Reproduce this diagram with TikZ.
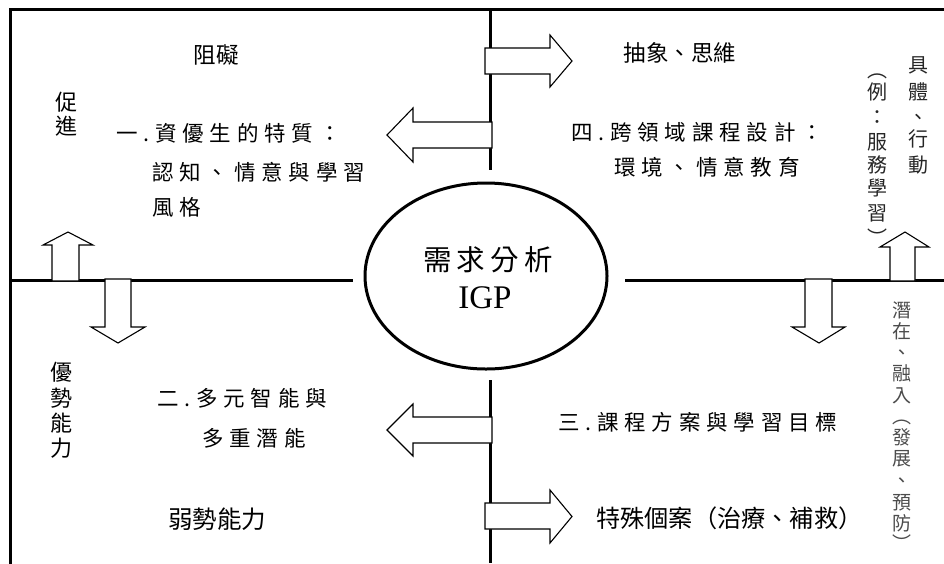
\documentclass[tikz,border=0pt]{standalone}
\usepackage{fontspec}
\setmainfont{Liberation Serif}
\newfontfamily\cjk{Noto Sans CJK TC}
\newfontfamily\cjksp{Noto Sans CJK TC}[LetterSpace=27]
\newfontfamily\cjkcore{Noto Sans CJK TC}[LetterSpace=18]
\usetikzlibrary{shapes.geometric}
\begin{document}
\begin{tikzpicture}[x=1pt,y=-1pt,
  frameline/.style={line width=3pt, line cap=rect, line join=miter},
  blockarrow/.style={draw=black, line width=1.1pt, fill=white, line join=miter},
  sptext/.style={anchor=west, inner sep=0pt, text=black, text height=18.5pt, text depth=2.5pt,
    font={\cjksp\fontsize{21.5}{21.5}\selectfont}},
  plaintext/.style={inner sep=0pt, text=black, text height=19.5pt, text depth=2.7pt,
    font={\cjk\fontsize{22.5}{22.5}\selectfont}},
  vchar/.style={inner sep=0pt, text=black!85, text height=17.6pt, text depth=2.4pt,
    font={\cjk\fontsize{20}{20}\selectfont}},
  vcharg/.style={inner sep=0pt, text=black!70, text height=16.7pt, text depth=2.3pt,
    font={\cjk\fontsize{19}{19}\selectfont}},
  vcharl/.style={inner sep=0pt, text=black, text height=19pt, text depth=2.6pt,
    font={\cjk\fontsize{22}{22}\selectfont}}
]
\useasboundingbox (0,0) rectangle (944,563);

% frame and cross lines
\draw[frameline] (944,9.5) -- (10,9.5) -- (10,563);
\draw[frameline, line cap=butt] (490,9.5) -- (490,170);
\draw[frameline, line cap=butt] (490,380) -- (490,563);
\draw[frameline, line cap=butt] (10,280) -- (353,280);
\draw[frameline, line cap=butt] (625,280) -- (944,280);

% centre ellipse
\node[draw, ellipse, line width=3pt, minimum width=242pt, minimum height=186pt, inner sep=0pt] (core) at (486,276) {};
\node[anchor=west, inner sep=0pt, text=black, text height=24.6pt, text depth=3.4pt,
  font={\cjkcore\fontsize{28.5}{28.5}\selectfont}] (coretxt) at (423,260) {需求分析};
\node[inner sep=0pt, text=black, font={\fontsize{33}{33}\selectfont}] (igp) at (485,298) {IGP};

% block arrows
\draw[blockarrow] (492,122) -- (413,122) -- (413,108) -- (387,135) -- (413,162) -- (413,148) -- (492,148) -- cycle;
\draw[blockarrow] (485,48) -- (550,48) -- (550,35) -- (572,61) -- (550,87) -- (550,74) -- (485,74) -- cycle;
\draw[blockarrow] (52,281) -- (52,245) -- (43,245) -- (68,232) -- (93,245) -- (79,245) -- (79,281) -- cycle;
\draw[blockarrow] (105,279) -- (105,327) -- (91,327) -- (118,343) -- (145,327) -- (131,327) -- (131,279) -- cycle;
\draw[blockarrow] (492,417) -- (413,417) -- (413,404) -- (387,430) -- (413,456) -- (413,443) -- (492,443) -- cycle;
\draw[blockarrow] (485,503) -- (550,503) -- (550,490) -- (572,516.5) -- (550,543) -- (550,529) -- (485,529) -- cycle;
\draw[blockarrow] (805,279) -- (805,327) -- (792,327) -- (819,343) -- (845,327) -- (832,327) -- (832,279) -- cycle;
\draw[blockarrow] (890,281) -- (890,247) -- (880,247) -- (905,232) -- (929,247) -- (915,247) -- (915,281) -- cycle;

% quadrant I (top left)
\node[plaintext] (zuai) at (216,55) {阻礙};
\node[vcharl] (cu) at (66,102) {促};
\node[vcharl] (jin) at (66,126) {進};
\node[sptext] (t1a) at (116,133) {一.資優生的特質：};
\node[sptext] (t1b) at (152,172) {認知、情意與學習};
\node[sptext] (t1c) at (152,207) {風格};

% quadrant IV (top right)
\node[plaintext] (abs) at (680,53) {抽象、思維};
\node[sptext] (t4a) at (571,132) {四.跨領域課程設計：};
\node[sptext] (t4b) at (614,167) {環境、情意教育};
\foreach \c/\y [count=\i] in {具/65, 體/92, 、/117, 行/139, 動/165}
  \node[vchar] (ju\i) at (918,\y) {\c};
\foreach \c/\y [count=\i] in {︵/70, 例/92, ：/117, 服/142, 務/165, 學/188, 習/213, ︶/238}
  \node[vchar] (li\i) at (877,\y) {\c};

% quadrant II (bottom left)
\foreach \c/\y [count=\i] in {優/372, 勢/398, 能/423, 力/448}
  \node[vcharl] (you\i) at (61,\y) {\c};
\node[sptext] (t2a) at (157,398) {二.多元智能與};
\node[sptext] (t2b) at (202,438) {多重潛能};
\node[plaintext, font={\cjk\fontsize{24.5}{24.5}\selectfont}] (weak) at (217,520) {弱勢能力};

% quadrant III (bottom right)
\node[sptext] (t3) at (558,422) {三.課程方案與學習目標};
\node[plaintext, anchor=west, font={\cjk\fontsize{24.2}{24.2}\selectfont}] (spec) at (596,519) {特殊個案（治療、補救）};
\foreach \c/\y [count=\i] in {潛/310, 在/331, 、/352, 融/373, 入/395, ︵/416, 發/437, 展/458, 、/480, 預/502, 防/523, ︶/543}
  \node[vcharg] (qian\i) at (902,\y) {\c};
\end{tikzpicture}
\end{document}
